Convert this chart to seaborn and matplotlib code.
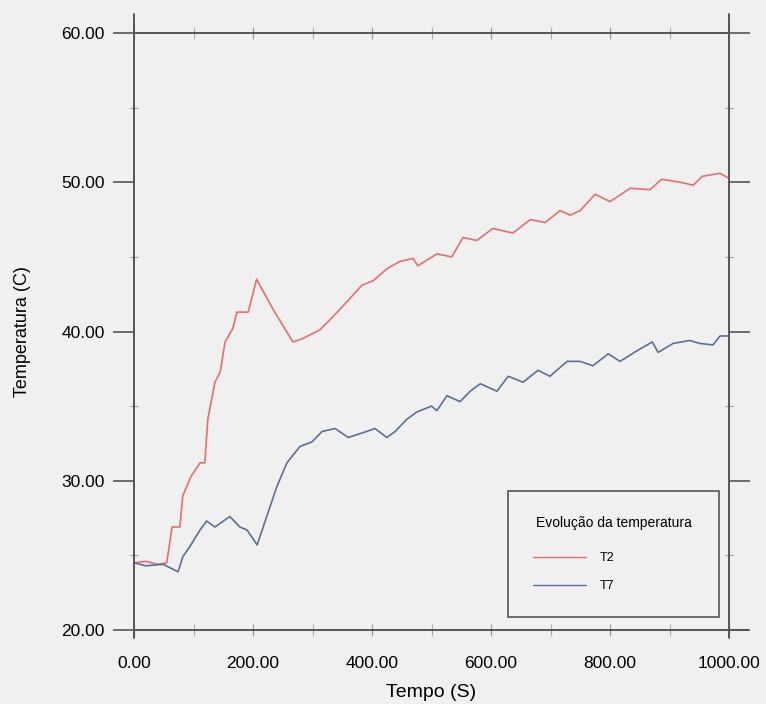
import matplotlib
matplotlib.use("Agg")
import matplotlib.pyplot as plt
from matplotlib.ticker import MultipleLocator, FormatStrFormatter
import numpy as np
import pandas as pd
import seaborn as sns

# Time (s) and temperature (C) readings for the two sensors
t2_time = [0, 20, 40, 55, 64, 77, 82, 96, 111, 119, 124, 136, 145, 153, 166, 173,
           192, 206, 235, 267, 282, 312, 332, 358, 383, 402, 425, 447, 469, 477,
           509, 534, 553, 576, 603, 637, 666, 691, 716, 733, 750, 775, 800, 834,
           867, 887, 918, 940, 955, 985, 998]
t2_temp = [24.5, 24.6, 24.4, 24.5, 26.9, 26.9, 29.0, 30.3, 31.2, 31.2, 34.1, 36.6,
           37.3, 39.3, 40.2, 41.3, 41.3, 43.5, 41.4, 39.3, 39.5, 40.1, 40.9, 42.0,
           43.1, 43.4, 44.2, 44.7, 44.9, 44.4, 45.2, 45.0, 46.3, 46.1, 46.9, 46.6,
           47.5, 47.3, 48.1, 47.8, 48.1, 49.2, 48.7, 49.6, 49.5, 50.2, 50.0, 49.8,
           50.4, 50.6, 50.3]

t7_time = [0, 20, 49, 74, 82, 94, 111, 122, 136, 161, 178, 190, 207, 223, 240,
           257, 279, 299, 316, 338, 360, 391, 405, 425, 439, 458, 475, 500, 509,
           526, 548, 565, 582, 610, 629, 654, 679, 699, 728, 750, 771, 797, 817,
           845, 871, 881, 906, 934, 951, 973, 985, 998]
t7_temp = [24.5, 24.3, 24.4, 23.9, 24.9, 25.6, 26.7, 27.3, 26.9, 27.6, 26.9, 26.7,
           25.7, 27.6, 29.6, 31.2, 32.3, 32.6, 33.3, 33.5, 32.9, 33.3, 33.5, 32.9,
           33.3, 34.1, 34.6, 35.0, 34.7, 35.7, 35.3, 36.0, 36.5, 36.0, 37.0, 36.6,
           37.4, 37.0, 38.0, 38.0, 37.7, 38.5, 38.0, 38.7, 39.3, 38.6, 39.2, 39.4,
           39.2, 39.1, 39.7, 39.7]

series_names = ["T2", "T7"]
series_colors = ["#e46f6f", "#5d6f95"]

df = pd.concat([
    pd.DataFrame({"Tempo": t2_time, "Temperatura": t2_temp, "Série": "T2"}),
    pd.DataFrame({"Tempo": t7_time, "Temperatura": t7_temp, "Série": "T7"}),
], ignore_index=True)

sns.set_style("ticks")
plt.rcParams["font.family"] = ["Liberation Sans", "DejaVu Sans"]
plt.rcParams["text.color"] = "black"
plt.rcParams["axes.labelcolor"] = "black"
plt.rcParams["xtick.labelcolor"] = "black"
plt.rcParams["ytick.labelcolor"] = "black"

bg = "#f0f0f0"
frame = "#555555"

fig = plt.figure(figsize=(7.66, 7.04), dpi=100, facecolor=bg)
ax = fig.add_axes([134 / 766, 1 - 630 / 704, (729 - 134) / 766, (630 - 33) / 704])
ax.set_facecolor(bg)

sns.lineplot(data=df, x="Tempo", y="Temperatura", hue="Série",
             hue_order=series_names, palette=series_colors,
             linewidth=1.2, ax=ax, sort=False, estimator=None)

ax.set_xlim(0, 1000)
ax.set_ylim(20, 60)
ax.xaxis.set_major_locator(MultipleLocator(200))
ax.xaxis.set_minor_locator(MultipleLocator(100))
ax.yaxis.set_major_locator(MultipleLocator(10))
ax.yaxis.set_minor_locator(MultipleLocator(5))
ax.xaxis.set_major_formatter(FormatStrFormatter("%.2f"))
ax.yaxis.set_major_formatter(FormatStrFormatter("%.2f"))

for s in ax.spines.values():
    s.set_color(frame)
    s.set_linewidth(1.4)

ax.tick_params(axis="y", which="major", direction="out", length=15, width=1.2,
               color=frame, labelsize=12.5, pad=6, left=True, right=True)
ax.tick_params(axis="y", which="minor", direction="inout", length=6, width=0.8,
               color="#999999", left=True, right=True)
ax.tick_params(axis="x", which="major", direction="inout", length=8, width=0.9,
               color="#999999", labelsize=12.5, pad=15, bottom=True, top=True)
ax.tick_params(axis="x", which="minor", direction="inout", length=8, width=0.8,
               color="#aaaaaa", bottom=True, top=True)

# long frame extensions at the corners
ax.plot([0, 0], [60, 61.3], color=frame, lw=1.4, clip_on=False)
ax.plot([1000, 1000], [60, 61.3], color=frame, lw=1.4, clip_on=False)
ax.plot([0, 0], [20, 19.45], color=frame, lw=1.4, clip_on=False)
ax.plot([1000, 1000], [20, 19.45], color=frame, lw=1.4, clip_on=False)
ax.plot([1000, 1032], [20, 20], color=frame, lw=1.4, clip_on=False)

ax.set_xlabel("Tempo (S)", fontsize=14, labelpad=9)
ax.set_ylabel("Temperatura (C)", fontsize=13, labelpad=22)

leg = ax.legend(title="Evolução da temperatura", loc="lower left",
                bbox_to_anchor=((508 - 134) / 595, (630 - 617) / 597,
                                (719 - 508) / 595, (617 - 491) / 597),
                mode="expand", fontsize=9, title_fontsize=10,
                frameon=True, fancybox=False, handlelength=4.2,
                borderpad=2.0, labelspacing=1.25, handletextpad=1.1,
                borderaxespad=0)
leg._legend_box.sep = 16
leg.get_frame().set_edgecolor(frame)
leg.get_frame().set_facecolor(bg)
leg.get_frame().set_linewidth(1.2)
leg.get_frame().set_alpha(1)
for line in leg.get_lines():
    line.set_linewidth(1.0)

fig.savefig("out.png", dpi=100, facecolor=bg)
